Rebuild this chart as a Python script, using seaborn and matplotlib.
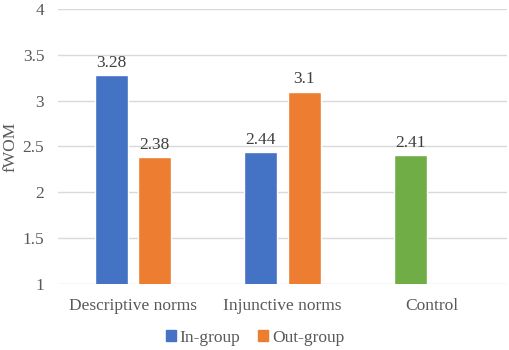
import numpy as np
import pandas as pd
import matplotlib
matplotlib.use("Agg")
import matplotlib.pyplot as plt
import seaborn as sns

# Data
categories = ["Descriptive norms", "Injunctive norms", "Control"]
in_group = [3.28, 2.44, 2.41]
out_group = [2.38, 3.10, np.nan]
series_names = ["In-group", "Out-group"]

colors = {"In-group": "#4472C4", "Out-group": "#ED7D31"}
control_color = "#70AD47"

rows = []
for cat, a, b in zip(categories, in_group, out_group):
    rows.append({"cond": cat, "group": "In-group", "val": a})
    if not np.isnan(b):
        rows.append({"cond": cat, "group": "Out-group", "val": b})
df = pd.DataFrame(rows)

sns.set_style("white")
plt.rcParams["font.family"] = ["Liberation Serif", "DejaVu Serif"]
fs = 12.5

fig = plt.figure(figsize=(5.1, 3.5), dpi=100)
ax = fig.add_axes([0.114, 0.189, 0.880, 0.785])

sns.barplot(data=df, x="cond", y="val", hue="group", order=categories,
            hue_order=series_names, palette=colors, saturation=1,
            width=0.58, gap=0.24, errorbar=None, legend=False, ax=ax,
            zorder=3)

# value labels on top, control bar is green
for cont in ax.containers:
    ax.bar_label(cont, fmt="%g", padding=3, fontsize=fs, color="#404040")
ax.containers[0][2].set_facecolor(control_color)

ax.set_ylim(1, 4)
ax.set_yticks(np.arange(1, 4.01, 0.5))
ax.set_yticklabels(["1", "1.5", "2", "2.5", "3", "3.5", "4"])
ax.set_xlim(-0.5, 2.5)
ax.grid(axis="y", color="#D9D9D9", linewidth=1, zorder=0)
for s in ax.spines.values():
    s.set_visible(False)
ax.tick_params(axis="both", length=0, labelsize=fs, colors="#595959")
ax.tick_params(axis="x", pad=10)
ax.tick_params(axis="y", pad=10)
ax.set_xlabel("")
ax.set_ylabel("fWOM", fontsize=fs, color="#595959")
ax.yaxis.set_label_coords(-0.088, 0.5)

handles = [plt.Rectangle((0, 0), 1, 1, color=colors[n]) for n in series_names]
fig.legend(handles, series_names, loc="center", bbox_to_anchor=(0.5, 0.034),
           ncol=2, frameon=False, fontsize=fs, handlelength=0.6,
           handleheight=0.6, handletextpad=0.2, columnspacing=1.0,
           labelcolor="#595959")

fig.savefig("out.png", dpi=100)
